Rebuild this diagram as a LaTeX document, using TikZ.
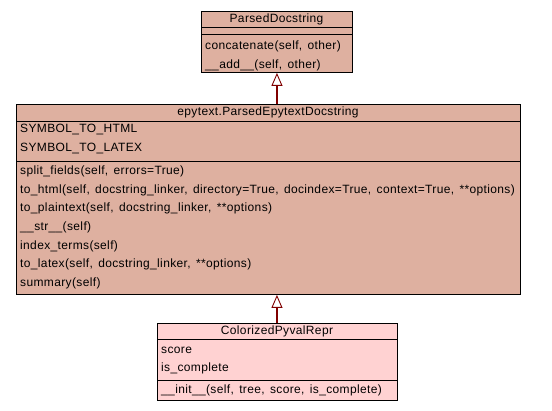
\documentclass[tikz,border=0pt]{standalone}
\usepackage{fontspec}
\setmainfont{Liberation Sans}[LetterSpace=3,WordSpace=1.45]
\usetikzlibrary{arrows.meta}
\definecolor{boxsalmon}{RGB}{222,176,160}
\definecolor{boxpink}{RGB}{255,210,210}
\definecolor{inhred}{RGB}{128,0,0}
\begin{document}
\begin{tikzpicture}[x=1pt,y=-1pt,
  classbox/.style={draw=black, line width=0.9pt, inner sep=0pt, anchor=north west},
  member/.style={anchor=west, inner sep=0pt, font=\fontsize{12}{14}\selectfont},
  ctitle/.style={anchor=center, inner sep=0pt, font=\fontsize{12}{14}\selectfont},
  sepline/.style={draw=black, line width=0.9pt},
  inherit/.style={draw=inhred, line width=2.6pt, -{Triangle[open, length=13pt, width=11pt, line width=0.9pt]}}
]
\useasboundingbox (0,0) rectangle (552,411);
\fill[white] (0,0) rectangle (552,411);

% ParsedDocstring
\node[classbox, fill=boxsalmon, minimum width=151pt, minimum height=61pt] (pd) at (201,11) {};
\draw[sepline] (201,27) -- (352,27);
\draw[sepline] (201,34) -- (352,34);
\node[ctitle] (pdt) at (276.5,19) {ParsedDocstring};
\node[member] (pdm1) at (205,46) {concatenate(self, other)};
\node[member] (pdm2) at (205,65) {\_\_add\_\_(self, other)};

% epytext.ParsedEpytextDocstring
\node[classbox, fill=boxsalmon, minimum width=504pt, minimum height=190pt] (ped) at (16,104) {};
\draw[sepline] (16,121) -- (520,121);
\draw[sepline] (16,161) -- (520,161);
\node[ctitle] (pedt) at (268,112) {epytext.ParsedEpytextDocstring};
\node[member] (peda1) at (20,130) {SYMBOL\_TO\_HTML};
\node[member] (peda2) at (20,149) {SYMBOL\_TO\_LATEX};
\node[member] (pedm1) at (20,171) {split\_fields(self, errors=True)};
\node[member] (pedm2) at (20,190) {to\_html(self, docstring\_linker, directory=True, docindex=True, context=True, **options)};
\node[member] (pedm3) at (20,208) {to\_plaintext(self, docstring\_linker, **options)};
\node[member] (pedm4) at (20,227) {\_\_str\_\_(self)};
\node[member] (pedm5) at (20,246) {index\_terms(self)};
\node[member] (pedm6) at (20,264) {to\_latex(self, docstring\_linker, **options)};
\node[member] (pedm7) at (20,283) {summary(self)};

% ColorizedPyvalRepr
\node[classbox, fill=boxpink, minimum width=240pt, minimum height=77pt] (cpr) at (157,323) {};
\draw[sepline] (157,339) -- (397,339);
\draw[sepline] (157,380) -- (397,380);
\node[ctitle] (cprt) at (277,331) {ColorizedPyvalRepr};
\node[member] (cpra1) at (161,350) {score};
\node[member] (cpra2) at (161,368) {is\_complete};
\node[member] (cprm1) at (161,390) {\_\_init\_\_(self, tree, score, is\_complete)};

% inheritance
\draw[inherit] (ped.north -| pd.south) -- (pd.south);
\draw[inherit] (cpr.north -| pd.south) -- (ped.south -| pd.south);
\end{tikzpicture}
\end{document}
